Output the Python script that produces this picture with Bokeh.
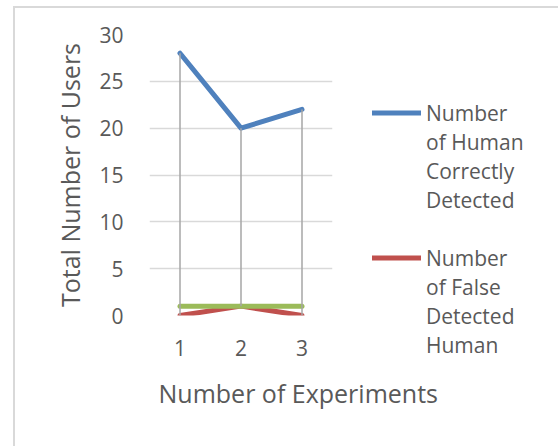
from bokeh.plotting import figure
from bokeh.models import Range1d, Legend, LegendItem, Title, FixedTicker
from bokeh.embed import file_html
from bokeh.resources import INLINE

experiments = [1, 2, 3]
correct_human = [28, 20, 22]
false_human = [0, 1, 0]
third_series = [1, 1, 1]
y_ticks = [0, 5, 10, 15, 20, 25, 30]
legend_blue = ["Number", "of Human", "Correctly", "Detected"]
legend_red = ["Number", "of False", "Detected", "Human"]

FONT = "Open Sans"
TXT = "#595959"
BORDER = "#D9D9D9"

p = figure(frame_width=183, frame_height=281, output_backend="svg", toolbar_location=None,
           x_range=Range1d(0.5, 3.5), y_range=Range1d(0, 30),
           min_border_left=149, min_border_right=226, min_border_top=34, min_border_bottom=131)
p.outline_line_color = None
p.background_fill_color = "white"
p.border_fill_color = None
p.styles = {
    "background": ("linear-gradient(%s,%s) 13px 6px / 2px 100%% no-repeat, "
                   "linear-gradient(%s,%s) 13px 6px / 100%% 2px no-repeat, white") % (BORDER, BORDER, BORDER, BORDER)
}

p.xgrid.grid_line_color = None
p.ygrid.grid_line_color = BORDER
p.ygrid.grid_line_width = 1.5
p.yaxis.ticker = FixedTicker(ticks=y_ticks)
p.xaxis.ticker = FixedTicker(ticks=experiments)

for ax in (p.xaxis[0], p.yaxis[0]):
    ax.axis_line_color = None
    ax.major_tick_line_color = None
    ax.minor_tick_line_color = None
    ax.major_tick_out = 0
    ax.major_tick_in = 0
    ax.minor_tick_out = 0
    ax.minor_tick_in = 0
    ax.major_label_text_font = FONT
    ax.major_label_text_font_size = "21px"
    ax.major_label_text_color = TXT
    ax.axis_label_text_font = FONT
    ax.axis_label_text_font_size = "25px"
    ax.axis_label_text_color = TXT
    ax.axis_label_text_font_style = "normal"

p.yaxis.major_label_standoff = 26
p.xaxis.major_label_standoff = 24
p.yaxis.axis_label = "Total Number of Users"
p.yaxis.axis_label_standoff = 9

p.add_layout(Title(text="Number of Experiments", align="left", offset=9,
                   text_font=FONT, text_font_size="25px", text_color=TXT,
                   text_font_style="normal", standoff=30), "below")

r_blue = p.line(experiments, correct_human, line_color="#4F81BD", line_width=5, line_cap="round", line_join="round")
r_red = p.line(experiments, false_human, line_color="#C0504D", line_width=5, line_cap="round", line_join="round")
r_green = p.line(experiments, third_series, line_color="#9BBB59", line_width=5, line_cap="round", line_join="round")

hi = [max(a, b, c) for a, b, c in zip(correct_human, false_human, third_series)]
lo = [min(a, b, c) for a, b, c in zip(correct_human, false_human, third_series)]
p.segment(x0=experiments, y0=lo, x1=experiments, y1=hi, line_color="#A6A6A6", line_width=1.5)

def blank():
    return p.line([], [], line_alpha=0)

items = [LegendItem(label=legend_blue[0], renderers=[r_blue])]
items += [LegendItem(label=t, renderers=[blank()]) for t in legend_blue[1:]]
items += [LegendItem(label=" ", renderers=[blank()])]
items += [LegendItem(label=legend_red[0], renderers=[r_red])]
items += [LegendItem(label=t, renderers=[blank()]) for t in legend_red[1:]]

lg = Legend(items=items, location=(40, -44), orientation="vertical",
            padding=0, margin=0, spacing=0, label_height=29, glyph_height=29,
            glyph_width=49, label_standoff=5,
            label_text_font=FONT, label_text_font_size="21px", label_text_color=TXT,
            border_line_alpha=0, background_fill_alpha=0)
p.add_layout(lg, "right")

open("out.html", "w").write(file_html(p, INLINE))
